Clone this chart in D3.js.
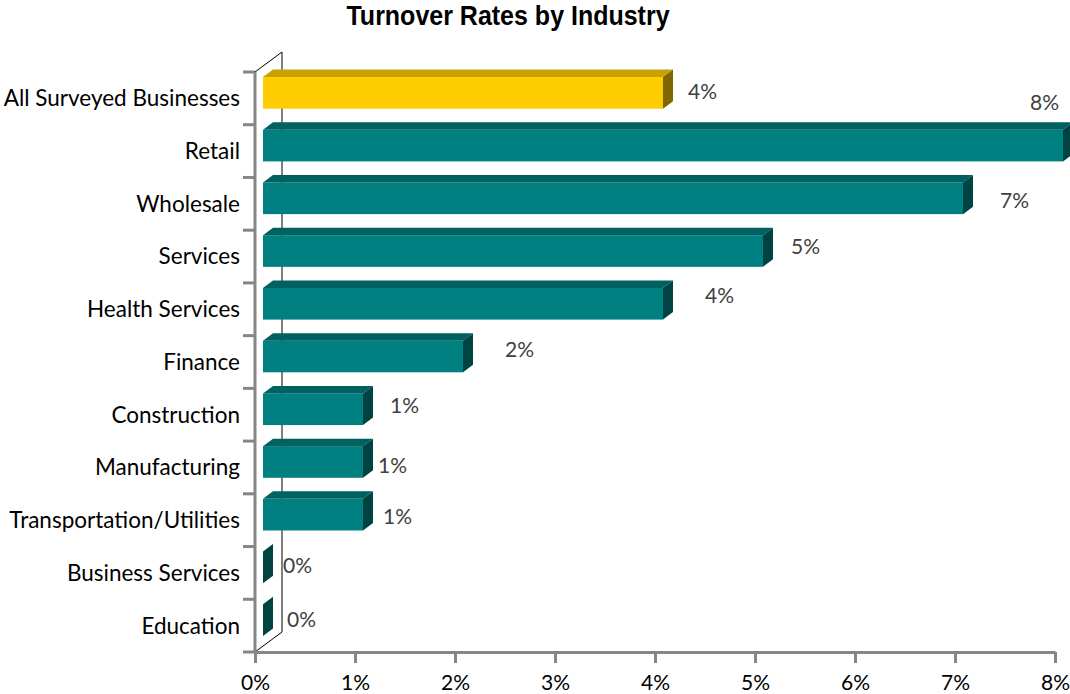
<!DOCTYPE html>
<html>
<head>
<meta charset="utf-8">
<script src="https://cdn.jsdelivr.net/npm/d3@7"></script>
<style>
    body { margin: 0; background: #fff; }
    .fig-title { font: bold 25px "Liberation Sans", Arial, sans-serif; }
    .cat-label { font-family: Lato, "Open Sans", sans-serif; font-size: 22.5px; fill: #000; }
    .tick-label { font-family: Lato, "Open Sans", sans-serif; font-size: 21px; fill: #000; }
    .value-label { font-family: Lato, "Open Sans", sans-serif; font-size: 21px; fill: #404040; }
    .axis-line { stroke: #868686; stroke-width: 3; fill: none; }
    .wall { stroke: #000; stroke-width: 1; fill: none; }
</style>
</head>
<body>
<div class="panel"></div>
<script>

const industries = [
    "All Surveyed Businesses", "Retail", "Wholesale", "Services", "Health Services",
    "Finance", "Construction", "Manufacturing", "Transportation/Utilities",
    "Business Services", "Education"
];
const rates = [4, 8, 7, 5, 4, 2, 1, 1, 1, 0, 0];
const rateTicks = [0, 1, 2, 3, 4, 5, 6, 7, 8];

// Excel puts the 3D data labels a bit all over the place
const labelNudges = [
    [25, -7], [-33, -48], [37, -3], [28, -10], [42, -14], [42, -12],
    [27, -9], [15, -2], [20, -4], [20, -7], [24, -6]
];

const width = 1070;
const height = 694;

const colors = {
    highlight: { front: "#FFCC00", top: "#C9A100", side: "#806600" },
    normal: { front: "#008080", top: "#006161", side: "#004343" }
};

const panel = d3.select(".panel");

const svg = panel.append("svg")
    .attr("width", width)
    .attr("height", height)
    .attr("viewBox", [0, 0, width, height]);

// Title (the original is stretched a little vertically)

svg.append("text")
    .attr("class", "fig-title")
    .attr("transform", "translate(508, 25) scale(1, 1.14)")
    .attr("text-anchor", "middle")
    .text("Turnover Rates by Industry");

// Scales

const x = d3.scaleLinear()
    .domain([0, 8])
    .range([255, 1055]);

const y = d3.scaleBand()
    .domain(industries)
    .range([72, 652])
    .paddingInner(0.4)
    .paddingOuter(0.2);

// depth of the back wall, and where the bars sit inside it
const wall = [27, -20];
const barShift = [8, -5.5];
const barDepth = [10, -7.5];

// Back wall edge

svg.append("path")
    .attr("class", "wall")
    .attr("d", `M ${ x(0) } ${ y.range()[0] } l ${ wall[0] } ${ wall[1] }
                V ${ y.range()[1] + wall[1] } L ${ x(0) } ${ y.range()[1] }`);

// Bars

svg.append("g")
    .selectAll("g")
    .data(industries)
    .join("g")
    .each(function(d, i) {
        const g = d3.select(this);
        const c = i === 0 ? colors.highlight : colors.normal;
        const x0 = x(0) + barShift[0];
        const x1 = x(rates[i]) + barShift[0];
        const yt = y(d) + barShift[1];
        const yb = yt + y.bandwidth();
        const [ddx, ddy] = barDepth;

        g.append("rect")
            .attr("x", x0)
            .attr("y", yt)
            .attr("width", x1 - x0)
            .attr("height", y.bandwidth())
            .attr("fill", c.front);

        g.append("path")
            .attr("fill", c.top)
            .attr("d", `M ${ x0 } ${ yt } L ${ x1 } ${ yt } L ${ x1 + ddx } ${ yt + ddy } L ${ x0 + ddx } ${ yt + ddy } Z`);

        g.append("path")
            .attr("fill", c.side)
            .attr("d", `M ${ x1 } ${ yt } L ${ x1 + ddx } ${ yt + ddy } L ${ x1 + ddx } ${ yb + ddy } L ${ x1 } ${ yb } Z`);
    });

// Value labels

svg.append("g")
    .selectAll("text")
    .data(industries)
    .join("text")
    .attr("class", "value-label")
    .attr("x", (d, i) => x(rates[i]) + barShift[0] + labelNudges[i][0])
    .attr("y", (d, i) => y(d) + y.bandwidth() / 2 + labelNudges[i][1])
    .attr("dy", "0.35em")
    .text((d, i) => rates[i] + "%");

// Axes

const xAxis = svg.append("g")
    .attr("transform", `translate(0, ${ y.range()[1] })`)
    .call(d3.axisBottom(x)
        .tickValues(rateTicks)
        .tickFormat(d => d + "%")
        .tickSize(11)
        .tickSizeOuter(0)
        .tickPadding(12));

xAxis.select(".domain").attr("class", "axis-line");
xAxis.selectAll(".tick line").attr("class", "axis-line");
xAxis.selectAll(".tick text")
    .attr("class", "tick-label")
    .attr("fill", null);

// category boundaries carry the ticks, not the band centres
const boundaries = industries.map(d => y(d) - y.step() * y.paddingInner() / 2)
    .concat([y.range()[1]]);

const yAxis = svg.append("g");

yAxis.append("line")
    .attr("class", "axis-line")
    .attr("x1", x(0)).attr("x2", x(0))
    .attr("y1", y.range()[0]).attr("y2", y.range()[1] + 1.5);

yAxis.selectAll(".ytick")
    .data(boundaries)
    .join("line")
    .attr("class", "axis-line")
    .attr("x1", x(0) - 12)
    .attr("x2", x(0))
    .attr("y1", d => d)
    .attr("y2", d => d);

yAxis.selectAll(".cat-label")
    .data(industries)
    .join("text")
    .attr("class", "cat-label")
    .attr("x", x(0) - 15)
    .attr("y", d => y(d) + y.bandwidth() / 2)
    .attr("dy", "0.35em")
    .attr("text-anchor", "end")
    .text(d => d);

</script>
</body>
</html>
